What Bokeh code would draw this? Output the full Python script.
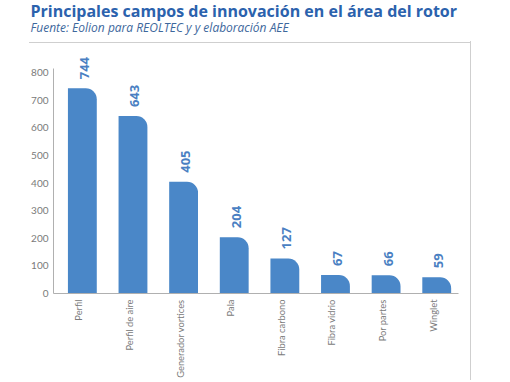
import math
from bokeh.plotting import figure
from bokeh.models import Title, FactorRange, Range1d, ColumnDataSource
from bokeh.core.properties import value
from bokeh.transform import dodge
from bokeh.embed import file_html
from bokeh.resources import INLINE

categories = ["Perfil", "Perfil de aire", "Generador vortices", "Pala",
              "Fibra carbono", "Fibra vidrio", "Por partes", "Winglet"]
counts = [744, 643, 405, 204, 127, 67, 66, 59]
y_ticks = [0, 100, 200, 300, 400, 500, 600, 700, 800]

title_text = "Principales campos de innovación en el área del rotor"
subtitle_text = "Fuente: Eolion para REOLTEC y y elaboración AEE"

BAR = "#4a87c8"
LABEL = "#4a7fc2"
GREY = "#7a7a7a"
AXIS = "#b0b0b0"
FRAME = "#cfcfcf"

src = ColumnDataSource(dict(cat=categories, val=counts, lab=[str(v) for v in counts]))

p = figure(width=471, height=380, output_backend="svg", toolbar_location=None,
           x_range=FactorRange(*categories, range_padding=0),
           y_range=Range1d(0, 870),
           min_border_left=53, min_border_right=13, min_border_top=0, min_border_bottom=10)
p.border_fill_color = None
p.background_fill_color = None
p.styles = {
    "border-right": f"1px solid {FRAME}",
    "border-image": f"linear-gradient(to bottom, rgba(255,255,255,0) 42px, {FRAME} 42px) 1",
    "background-image": f"linear-gradient({FRAME}, {FRAME})",
    "background-size": "443px 1px",
    "background-position": "29px 42px",
    "background-repeat": "no-repeat",
}

spacer = Title(text=" ", align="left", text_font_size="1px", standoff=18)
p.add_layout(spacer, "above")
sub = Title(text=subtitle_text, align="left", text_font="Open Sans",
            text_font_style="italic", text_font_size="12px", text_color="#3d679c",
            offset=-23, standoff=-6)
p.add_layout(sub, "above")
ttl = Title(text=title_text, align="left", text_font="Open Sans",
            text_font_style="bold", text_font_size="16px", text_color="#2b62ad",
            offset=-23, standoff=-5)
p.add_layout(ttl, "above")

xpos = dodge("cat", 0.07, range=p.x_range)
p.vbar(x=xpos, top="val", width=0.57, source=src, fill_color=BAR, line_color=None,
       border_radius=(0, 11, 0, 0))
p.text(x=xpos, y="val", text="lab", source=src, angle=math.pi / 2,
       text_align="left", text_baseline="middle", y_offset=-9, x_offset=2,
       text_font=value("Open Sans"), text_font_style="bold", text_font_size="13px",
       text_color=LABEL)

for ax in (p.xaxis[0], p.yaxis[0]):
    ax.axis_line_color = AXIS
    ax.major_tick_line_color = None
    ax.minor_tick_line_color = None
    ax.major_tick_out = 0
    ax.minor_tick_out = 0
    ax.major_label_text_color = GREY
    ax.major_label_text_font = "Lato"

p.yaxis.ticker = y_ticks
p.yaxis.bounds = (0, 815)
p.yaxis.major_label_text_font_size = "10px"
p.yaxis.major_label_standoff = 5
p.xaxis.major_label_text_font_size = "9.3px"
p.xaxis.major_label_orientation = math.pi / 2
p.xaxis.major_label_standoff = 6

p.xgrid.grid_line_color = None
p.ygrid.grid_line_color = None
p.outline_line_color = None

open("out.html", "w").write(file_html(p, INLINE))
